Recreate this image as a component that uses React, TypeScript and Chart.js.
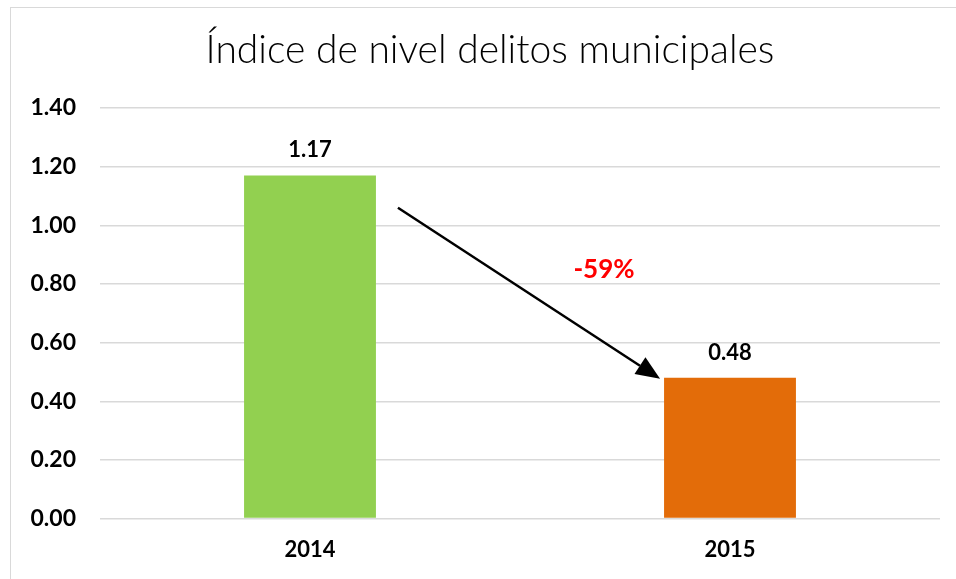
import React, { useEffect, useRef } from "react";
import { Chart, registerables } from "chart.js";

Chart.register(...registerables);

const TITLE = "Índice de nivel delitos municipales";
const CATEGORIES = ["2014", "2015"];
const VALUES = [1.17, 0.48];
const BAR_COLORS = ["#92D050", "#E36C09"];
const Y_MIN = 0;
const Y_MAX = 1.4;
const Y_STEP = 0.2;

const decor = {
  id: "decor",
  beforeDraw(chart: any) {
    const ctx = chart.ctx;
    ctx.save();
    ctx.fillStyle = "#ffffff";
    ctx.fillRect(0, 0, chart.width, chart.height);
    ctx.strokeStyle = "#d9d9d9";
    ctx.lineWidth = 1;
    ctx.strokeRect(10.5, 7.5, chart.width + 20, chart.height + 20);
    ctx.fillStyle = "#000000";
    ctx.font = "300 39px Lato, 'DejaVu Sans', sans-serif";
    ctx.textAlign = "center";
    ctx.textBaseline = "middle";
    ctx.fillText(TITLE, 490, 50);
    ctx.restore();
  },
  afterDatasetsDraw(chart: any) {
    const ctx = chart.ctx;
    const meta = chart.getDatasetMeta(0);
    const x = chart.scales.x;
    const y = chart.scales.y;
    ctx.save();
    ctx.font = "bold 22px Lato, sans-serif";
    ctx.fillStyle = "#000000";
    ctx.textAlign = "center";
    ctx.textBaseline = "alphabetic";
    meta.data.forEach((bar: any, i: number) => {
      ctx.fillText(VALUES[i].toFixed(2), bar.x, bar.y - 18);
    });
    // arrow
    const b0 = meta.data[0];
    const b1 = meta.data[1];
    const x0 = b0.x + b0.width / 2 + 22;
    const y0 = y.getPixelForValue(VALUES[0] - 0.11);
    const x1 = b1.x - b1.width / 2 - 4;
    const y1 = b1.y + 1;
    const ang = Math.atan2(y1 - y0, x1 - x0);
    const head = 24;
    const hw = 10;
    const bx = x1 - head * Math.cos(ang);
    const by = y1 - head * Math.sin(ang);
    ctx.strokeStyle = "#000000";
    ctx.lineWidth = 2.5;
    ctx.beginPath();
    ctx.moveTo(x0, y0);
    ctx.lineTo(bx, by);
    ctx.stroke();
    ctx.fillStyle = "#000000";
    ctx.beginPath();
    ctx.moveTo(x1, y1);
    ctx.lineTo(bx + hw * Math.sin(ang), by - hw * Math.cos(ang));
    ctx.lineTo(bx - hw * Math.sin(ang), by + hw * Math.cos(ang));
    ctx.closePath();
    ctx.fill();
    // percent change
    const pct = Math.round(((VALUES[1] - VALUES[0]) / VALUES[0]) * 100);
    ctx.fillStyle = "#FF0000";
    ctx.font = "bold 26px Lato, sans-serif";
    ctx.textBaseline = "middle";
    const px = x.getPixelForValue(0) + 0.7 * (x.getPixelForValue(1) - x.getPixelForValue(0));
    ctx.fillText(pct + "%", px, y.getPixelForValue(0.85));
    ctx.restore();
  },
};

export default function App() {
  const ref = useRef<HTMLCanvasElement>(null);
  useEffect(() => {
    const chart = new Chart(ref.current!, {
      type: "bar",
      data: {
        labels: CATEGORIES,
        datasets: [
          {
            data: VALUES,
            backgroundColor: BAR_COLORS,
            categoryPercentage: 1,
            barPercentage: 0.314,
          },
        ],
      },
      options: {
        animation: false,
        responsive: false,
        maintainAspectRatio: false,
        layout: { padding: { top: 108, left: 0, right: 16, bottom: 6 } },
        plugins: {
          legend: { display: false },
          title: { display: false },
          tooltip: { enabled: false },
        },
        scales: {
          x: {
            grid: { display: false },
            border: { display: false },
            ticks: {
              color: "#000000",
              font: { family: "Lato, sans-serif", size: 22, weight: "bold" },
              padding: 10,
            },
          },
          y: {
            min: Y_MIN,
            max: Y_MAX,
            border: { display: false },
            grid: { color: "#d9d9d9", lineWidth: 1.5, drawTicks: false },
            ticks: {
              stepSize: Y_STEP,
              color: "#000000",
              padding: 24,
              font: { family: "Lato, sans-serif", size: 23, weight: "bold" },
              callback: (v: any) => Number(v).toFixed(2),
            },
            afterFit: (s: any) => {
              s.width = 100;
            },
          },
        },
      },
      plugins: [decor],
    });
    return () => chart.destroy();
  }, []);
  return (
    <div style={{ position: "fixed", left: 0, top: 0, width: 956, height: 579 }}>
      <canvas ref={ref} width={956} height={579} style={{ width: 956, height: 579 }} />
    </div>
  );
}
